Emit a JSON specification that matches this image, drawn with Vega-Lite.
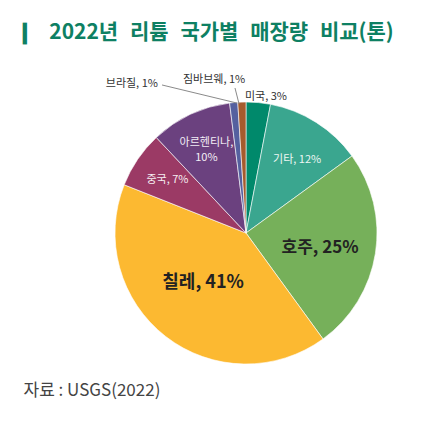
{
  "$schema": "https://vega.github.io/schema/vega-lite/v6.json",
  "width": 360,
  "height": 326,
  "autosize": {"type": "none"},
  "padding": {"left": 66, "top": 70, "right": 0, "bottom": 48},
  "background": "white",
  "config": {"view": {"stroke": null}, "font": "Noto Sans CJK KR"},
  "title": {
    "text": "❙\u2002 2022년\u2002\u200a리튬\u2002\u200a국가별\u2002\u200a매장량\u2002\u200a비교(톤)",
    "anchor": "start",
    "frame": "group",
    "dx": -50,
    "offset": 27,
    "fontSize": 21,
    "fontWeight": "bold",
    "color": "#0e8063",
    "font": "Noto Sans CJK KR"
  },
  "datasets": {
    "share": [
      {"국가": "미국", "비율": 3, "순번": 1, "라벨": "미국, 3%"},
      {"국가": "기타", "비율": 12, "순번": 2, "라벨": "기타, 12%"},
      {"국가": "호주", "비율": 25, "순번": 3, "라벨": "호주, 25%"},
      {"국가": "칠레", "비율": 41, "순번": 4, "라벨": "칠레, 41%"},
      {"국가": "중국", "비율": 7, "순번": 5, "라벨": "중국, 7%"},
      {"국가": "아르헨티나", "비율": 10, "순번": 6, "라벨": "아르헨티나,\n10%"},
      {"국가": "브라질", "비율": 1, "순번": 7, "라벨": "브라질, 1%"},
      {"국가": "짐바브웨", "비율": 1, "순번": 8, "라벨": "짐바브웨, 1%"}
    ],
    "leaders": [
      {"국가": "브라질", "x0": -0.069, "y0": 0.992, "x1": -0.641, "y1": 1.13},
      {"국가": "짐바브웨", "x0": -0.053, "y0": 0.985, "x1": -0.084, "y1": 1.107}
    ]
  },
  "data": {"name": "share"},
  "layer": [
    {
      "mark": {"type": "arc", "outerRadius": 131, "stroke": "white", "strokeWidth": 0.6},
      "encoding": {
        "theta": {"field": "비율", "type": "quantitative", "stack": true},
        "order": {"field": "순번"},
        "color": {
          "field": "국가",
          "type": "nominal",
          "scale": {
            "domain": ["미국", "기타", "호주", "칠레", "중국", "아르헨티나", "브라질", "짐바브웨"],
            "range": ["#00896b", "#3aa68f", "#76b05a", "#fcb931", "#9b3a65", "#6b417f", "#55609f", "#a55b2d"]
          },
          "legend": null
        }
      }
    },
    {
      "data": {"name": "leaders"},
      "mark": {"type": "rule", "color": "#8a8a8a", "strokeWidth": 1},
      "encoding": {
        "x": {
          "field": "x0",
          "type": "quantitative",
          "scale": {"domain": [-1.374, 1.374], "nice": false, "zero": false},
          "axis": {
            "domain": false,
            "ticks": false,
            "labels": false,
            "grid": false,
            "title": "자료 : USGS(2022)",
            "titleX": -43,
            "titleY": -6,
            "titleAlign": "left",
            "titleAnchor": null,
            "titleBaseline": "middle",
            "titleFontSize": 17,
            "titleFontWeight": "normal",
            "titleColor": "#444444",
            "titleFont": "Noto Sans CJK KR"
          }
        },
        "y": {
          "field": "y0",
          "type": "quantitative",
          "scale": {"domain": [-1.2443, 1.2443], "nice": false, "zero": false},
          "axis": null
        },
        "x2": {"field": "x1"},
        "y2": {"field": "y1"}
      }
    },
    {
      "mark": {"type": "text", "radius": 137, "fontSize": 11, "color": "#333333", "dx": 7},
      "encoding": {
        "theta": {"field": "비율", "type": "quantitative", "stack": true},
        "order": {"field": "순번"},
        "text": {"condition": {"test": "datum['국가'] === '미국'", "field": "라벨", "type": "nominal"}, "value": ""}
      }
    },
    {
      "mark": {"type": "text", "radius": 86, "fontSize": 11, "color": "#eef6f3", "dx": 5},
      "encoding": {
        "theta": {"field": "비율", "type": "quantitative", "stack": true},
        "order": {"field": "순번"},
        "text": {"condition": {"test": "datum['국가'] === '기타'", "field": "라벨", "type": "nominal"}, "value": ""}
      }
    },
    {
      "mark": {"type": "text", "radius": 75, "fontSize": 17, "fontWeight": "bold", "color": "#222222", "dy": 3},
      "encoding": {
        "theta": {"field": "비율", "type": "quantitative", "stack": true},
        "order": {"field": "순번"},
        "text": {"condition": {"test": "datum['국가'] === '호주'", "field": "라벨", "type": "nominal"}, "value": ""}
      }
    },
    {
      "mark": {"type": "text", "radius": 70, "fontSize": 18, "fontWeight": "bold", "color": "#222222", "dy": -5},
      "encoding": {
        "theta": {"field": "비율", "type": "quantitative", "stack": true},
        "order": {"field": "순번"},
        "text": {"condition": {"test": "datum['국가'] === '칠레'", "field": "라벨", "type": "nominal"}, "value": ""}
      }
    },
    {
      "mark": {"type": "text", "radius": 95, "fontSize": 11, "color": "#f6eef2"},
      "encoding": {
        "theta": {"field": "비율", "type": "quantitative", "stack": true},
        "order": {"field": "순번"},
        "text": {"condition": {"test": "datum['국가'] === '중국'", "field": "라벨", "type": "nominal"}, "value": ""}
      }
    },
    {
      "mark": {"type": "text", "radius": 100, "fontSize": 11, "color": "#f3eef6", "dx": 3, "lineBreak": "\n", "lineHeight": 15},
      "encoding": {
        "theta": {"field": "비율", "type": "quantitative", "stack": true},
        "order": {"field": "순번"},
        "text": {"condition": {"test": "datum['국가'] === '아르헨티나'", "field": "라벨", "type": "nominal"}, "value": ""}
      }
    },
    {
      "mark": {"type": "text", "radius": 150, "fontSize": 11, "color": "#333333", "align": "right", "dx": -74},
      "encoding": {
        "theta": {"field": "비율", "type": "quantitative", "stack": true},
        "order": {"field": "순번"},
        "text": {"condition": {"test": "datum['국가'] === '브라질'", "field": "라벨", "type": "nominal"}, "value": ""}
      }
    },
    {
      "mark": {"type": "text", "radius": 153, "fontSize": 11, "color": "#333333", "align": "right", "dx": 4},
      "encoding": {
        "theta": {"field": "비율", "type": "quantitative", "stack": true},
        "order": {"field": "순번"},
        "text": {"condition": {"test": "datum['국가'] === '짐바브웨'", "field": "라벨", "type": "nominal"}, "value": ""}
      }
    }
  ]
}
